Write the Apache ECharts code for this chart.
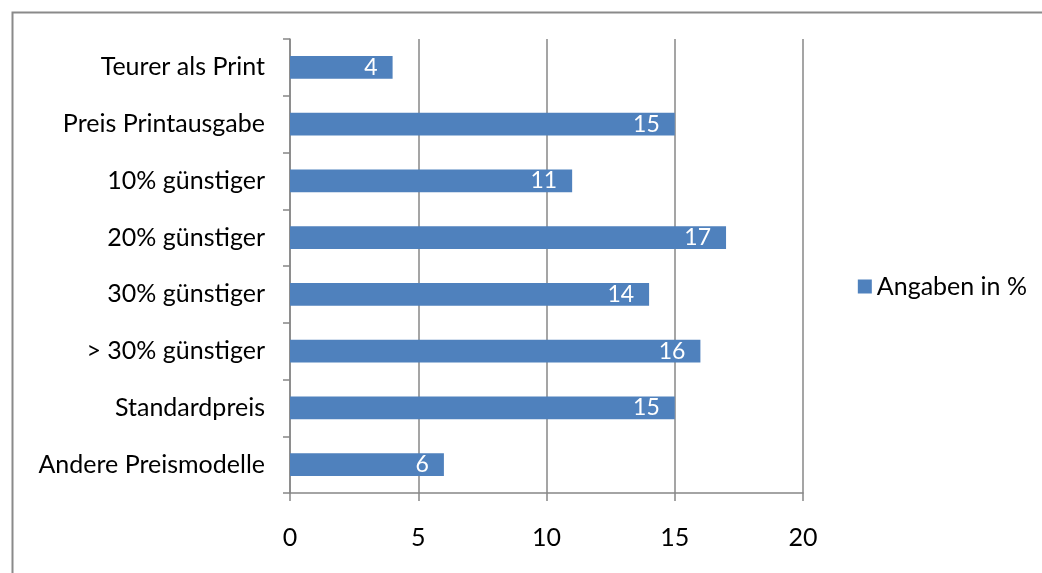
<!DOCTYPE html>
<html>
<head>
<meta charset="utf-8">
<script src="https://cdn.jsdelivr.net/npm/echarts@6/dist/echarts.min.js"></script>
<style>
html,body{margin:0;padding:0;background:#fff;}
#c{width:1042px;height:573px;}
</style>
</head>
<body>
<div id="c"></div>
<script>
const categories = ["Teurer als Print","Preis Printausgabe","10% günstiger","20% günstiger","30% günstiger","> 30% günstiger","Standardpreis","Andere Preismodelle"];
const values = [4, 15, 11, 17, 14, 16, 15, 6];
const seriesName = "Angaben in %";
const valueTicks = [0, 5, 10, 15, 20];

const chart = echarts.init(document.getElementById('c'), null, {renderer:'canvas'});
const font = 'Lato, "Open Sans", sans-serif';
chart.setOption({
  animation:false,
  backgroundColor:'#fff',
  graphic:[{type:'rect', left:10, top:10, shape:{width:1040, height:570}, style:{fill:'none', stroke:'#8a8a8a', lineWidth:2}, silent:true}],
  grid:{left:290, right:239, top:39, bottom:80},
  legend:{
    data:[seriesName], right:10, top:'middle', orient:'vertical',
    icon:'rect', itemWidth:14, itemHeight:14, itemGap:6,
    textStyle:{fontFamily:font, fontSize:25, color:'#000'}
  },
  xAxis:{
    type:'value', min:valueTicks[0], max:valueTicks[valueTicks.length-1], interval:5,
    axisLine:{show:true, lineStyle:{color:'#878787', width:1.5}},
    axisTick:{show:true, length:8, lineStyle:{color:'#878787', width:1.5}},
    splitLine:{show:true, lineStyle:{color:'#878787', width:1.5}},
    axisLabel:{fontFamily:font, fontSize:25, color:'#000', margin:32}
  },
  yAxis:{
    type:'category', data:categories, inverse:true,
    axisLine:{show:true, lineStyle:{color:'#878787', width:1.5}},
    axisTick:{show:true, length:7, lineStyle:{color:'#878787', width:1.5}},
    axisLabel:{fontFamily:font, fontSize:25, color:'#000', margin:25}
  },
  series:[{
    name:seriesName, type:'bar', data:values, barWidth:'40%',
    itemStyle:{color:'#4F81BD'},
    label:{show:true, position:'insideRight', distance:15, color:'#fff', fontFamily:font, fontSize:23}
  }]
});
</script>
</body>
</html>
